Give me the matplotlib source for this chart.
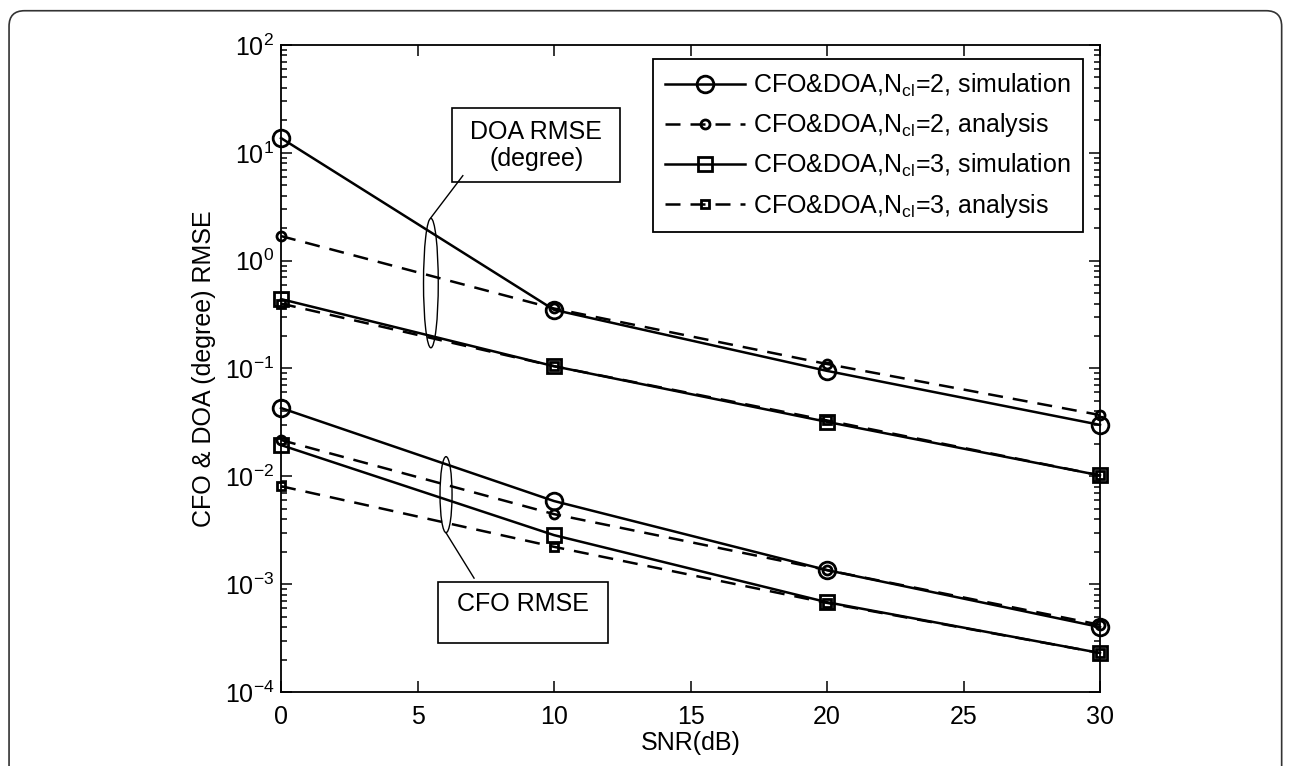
import numpy as np
import matplotlib
matplotlib.use('Agg')
import matplotlib.pyplot as plt
from matplotlib.patches import Ellipse, Rectangle, FancyBboxPatch
from matplotlib.lines import Line2D
from matplotlib.ticker import NullFormatter, LogLocator

plt.rcParams['font.family'] = ['Liberation Sans', 'DejaVu Sans']
plt.rcParams['mathtext.fontset'] = 'custom'
plt.rcParams['mathtext.rm'] = 'Liberation Sans'
plt.rcParams['mathtext.it'] = 'Liberation Sans'
plt.rcParams['mathtext.bf'] = 'Liberation Sans'

snr = [0, 10, 20, 30]

# DOA RMSE (degree)
doa_n2_sim = [13.7, 0.35, 0.095, 0.030]
doa_n2_ana = [1.69, 0.36, 0.11, 0.037]
doa_n3_sim = [0.44, 0.105, 0.032, 0.0102]
doa_n3_ana = [0.40, 0.105, 0.033, 0.0102]

# CFO RMSE
cfo_n2_sim = [0.043, 0.0059, 0.00135, 0.00040]
cfo_n2_ana = [0.0217, 0.00446, 0.00135, 0.00042]
cfo_n3_sim = [0.0195, 0.00285, 0.00068, 0.00023]
cfo_n3_ana = [0.0081, 0.00222, 0.00067, 0.00023]

yticks = [1e-4, 1e-3, 1e-2, 1e-1, 1e0, 1e1, 1e2]

labels = ['CFO&DOA,N$_{cl}$=2, simulation',
          'CFO&DOA,N$_{cl}$=2, analysis',
          'CFO&DOA,N$_{cl}$=3, simulation',
          'CFO&DOA,N$_{cl}$=3, analysis']

fs = 18

fig = plt.figure(figsize=(12.92, 7.66), dpi=100)
ax = fig.add_axes([0.2175, 0.0966, 0.6339, 0.8447])

styles = [
    dict(ls='-', marker='o', ms=12, mew=2),
    dict(ls=(0, (6, 4)), marker='o', ms=6.5, mew=2),
    dict(ls='-', marker='s', ms=9.5, mew=2),
    dict(ls=(0, (6, 4)), marker='s', ms=6, mew=2),
]
doa = [doa_n2_sim, doa_n2_ana, doa_n3_sim, doa_n3_ana]
cfo = [cfo_n2_sim, cfo_n2_ana, cfo_n3_sim, cfo_n3_ana]

handles = []
for i in range(4):
    st = styles[i]
    h, = ax.plot(snr, doa[i], color='black', lw=1.8, mfc='none', mec='black',
                 clip_on=False, zorder=3, **st)
    ax.plot(snr, cfo[i], color='black', lw=1.8, mfc='none', mec='black',
            clip_on=False, zorder=3, **st)
    handles.append(h)

ax.set_yscale('log')
ax.set_xlim(0, 30)
ax.set_ylim(1e-4, 1e2)
ax.set_xticks([0, 5, 10, 15, 20, 25, 30])
ax.set_yticks(yticks)
ax.yaxis.set_minor_locator(LogLocator(base=10, subs=np.arange(2, 10)))
ax.yaxis.set_minor_formatter(NullFormatter())
ax.tick_params(which='both', direction='in', top=True, right=True, labelsize=fs, width=1.1)
ax.tick_params(which='major', length=8)
ax.tick_params(axis='x', which='major', pad=9)
ax.tick_params(axis='y', which='major', pad=5)
ax.tick_params(which='minor', length=4)
for s in ax.spines.values():
    s.set_linewidth(1.3)

ax.set_xlabel('SNR(dB)', fontsize=fs, labelpad=2)
ax.set_ylabel('CFO & DOA (degree) RMSE', fontsize=fs, labelpad=6)

leg = ax.legend(handles, labels, loc='upper right', bbox_to_anchor=(0.979, 0.978),
                fontsize=fs, fancybox=False, edgecolor='black', framealpha=1,
                handlelength=3.2, handletextpad=0.3, labelspacing=0.5,
                borderpad=0.5, borderaxespad=0)
leg.get_frame().set_linewidth(1.3)

# annotations
ax.add_patch(Ellipse((0.183, 0.632), 0.018, 0.2, transform=ax.transAxes,
                     fill=False, ec='black', lw=1))
ax.add_line(Line2D([0.183, 0.222], [0.733, 0.798], transform=ax.transAxes, color='black', lw=1))
ax.add_patch(Rectangle((0.209, 0.788), 0.205, 0.115, transform=ax.transAxes,
                       fill=False, ec='black', lw=1.2))
ax.text(0.3115, 0.845, 'DOA RMSE\n(degree)', transform=ax.transAxes, ha='center', va='center',
        fontsize=fs, linespacing=1.15)

ax.add_patch(Ellipse((0.2015, 0.305), 0.0147, 0.1175, transform=ax.transAxes,
                     fill=False, ec='black', lw=1))
ax.add_line(Line2D([0.2015, 0.2357], [0.246, 0.176], transform=ax.transAxes, color='black', lw=1))
ax.add_patch(Rectangle((0.192, 0.0757), 0.207, 0.0943, transform=ax.transAxes,
                       fill=False, ec='black', lw=1.2))
ax.text(0.2955, 0.136, 'CFO RMSE', transform=ax.transAxes, ha='center', va='center', fontsize=fs)

# rounded page border
fig.patches.append(FancyBboxPatch((0.007, -0.05), 0.992 - 0.007, 0.986 + 0.05,
                                  boxstyle='round,pad=0,rounding_size=0.012',
                                  transform=fig.transFigure, fill=False,
                                  ec='#333333', lw=1.2, mutation_aspect=1.69))

fig.savefig('out.png', dpi=100)
